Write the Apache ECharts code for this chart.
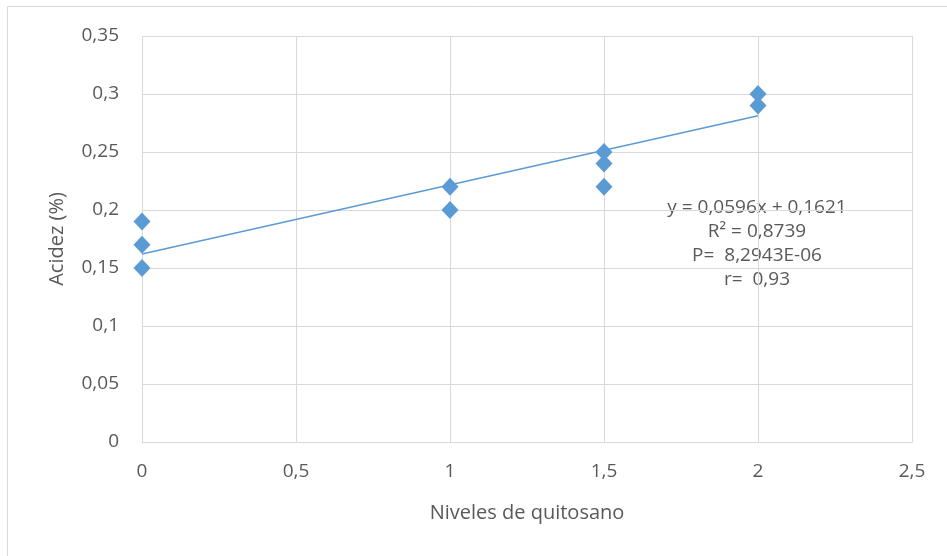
<!DOCTYPE html>
<html><head><meta charset="utf-8">
<script src="https://cdn.jsdelivr.net/npm/echarts@6/dist/echarts.min.js"></script>
<style>html,body{margin:0;padding:0;background:#fff}#c{width:947px;height:556px}</style>
</head><body><div id="c"></div>
<script>
const xValues = [0, 0, 0, 1, 1, 1.5, 1.5, 1.5, 2, 2];
const yValues = [0.19, 0.17, 0.15, 0.22, 0.20, 0.25, 0.24, 0.22, 0.30, 0.29];
const trendSlope = 0.0596;
const trendIntercept = 0.1621;
const trendX = [0, 2];
const equationLines = ['y = 0,0596x + 0,1621', 'R² = 0,8739', 'P=  8,2943E-06', 'r=  0,93'];
const fmt = v => String(v).replace('.', ',');

const points = xValues.map((x, i) => [x, yValues[i]]);
const trend = trendX.map(x => [x, trendIntercept + trendSlope * x]);
const font = '"Open Sans", "Liberation Sans", sans-serif';
const chart = echarts.init(document.getElementById('c'));
chart.setOption({
  animation: false,
  grid: {left: 142, top: 36, right: 35, bottom: 114},
  xAxis: {
    type: 'value', min: 0, max: 2.5, interval: 0.5,
    name: 'Niveles de quitosano', nameLocation: 'middle', nameGap: 61,
    nameTextStyle: {color: '#595959', fontSize: 20, fontFamily: font},
    axisLine: {show: true, lineStyle: {color: '#D9D9D9', width: 1}},
    axisTick: {show: false},
    axisLabel: {color: '#595959', fontSize: 19, fontFamily: font, margin: 20, formatter: fmt},
    splitLine: {show: true, lineStyle: {color: '#D9D9D9', width: 1}}
  },
  yAxis: {
    type: 'value', min: 0, max: 0.35, interval: 0.05,
    name: 'Acidez (%)', nameLocation: 'middle', nameGap: 75,
    nameTextStyle: {color: '#595959', fontSize: 20, fontFamily: font},
    axisLine: {show: false}, axisTick: {show: false},
    axisLabel: {color: '#595959', fontSize: 19, fontFamily: font, margin: 23, formatter: v => fmt(+v.toFixed(2))},
    splitLine: {show: true, lineStyle: {color: '#D9D9D9', width: 1}}
  },
  series: [
    {type: 'line', data: trend, showSymbol: false, symbol: 'none',
     lineStyle: {color: '#5B9BD5', width: 1.5}, z: 2, silent: true},
    {type: 'scatter', data: points, symbol: 'diamond', symbolSize: [17, 18],
     itemStyle: {color: '#5B9BD5', opacity: 1}, z: 3}
  ],
  graphic: [
    {type: 'rect', shape: {x: 7.5, y: 6.5, width: 960, height: 600},
     style: {fill: 'none', stroke: '#D9D9D9', lineWidth: 1}, silent: true},
    {type: 'text', x: 757, y: 196,
     style: {text: equationLines.join('\n'), fill: '#595959', font: '19px ' + font,
             align: 'center', textAlign: 'center', lineHeight: 24}}
  ]
});
</script></body></html>
